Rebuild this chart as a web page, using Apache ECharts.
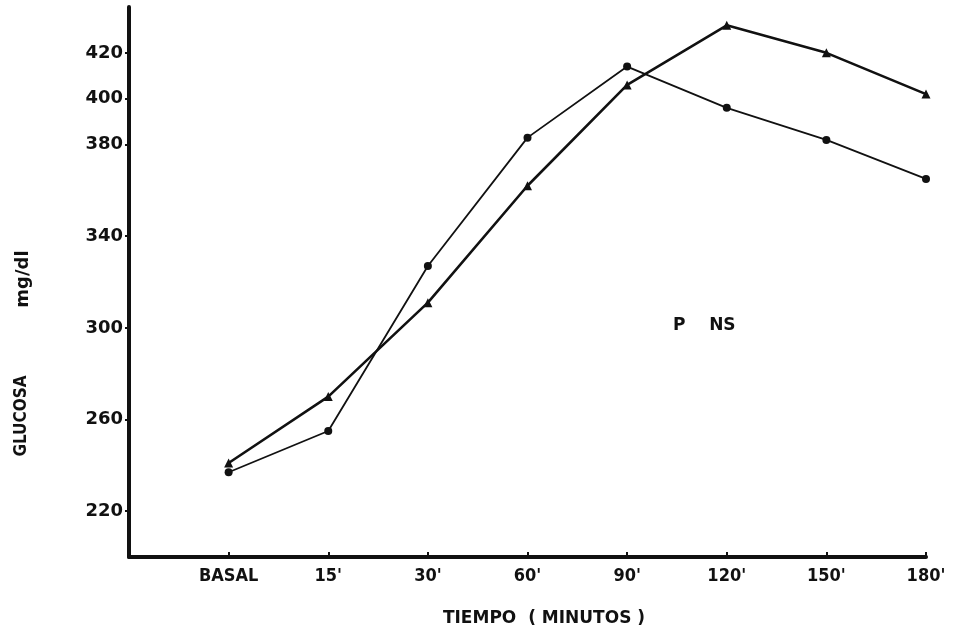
<!DOCTYPE html>
<html>
<head>
<meta charset="utf-8">
<script src="https://cdn.jsdelivr.net/npm/echarts@6/dist/echarts.min.js"></script>
<style>
  html, body { margin: 0; padding: 0; background: #fff; }
  #chart { width: 953px; height: 632px; }
</style>
</head>
<body>
<div id="chart"></div>
<script>
// Time points (first slot is empty, axis starts there)
const categories = ['', 'BASAL', "15'", "30'", "60'", "90'", "120'", "150'", "180'"];
// Glucose, mg/dl
const circleSeries = [null, 237, 255, 327, 383, 414, 396, 382, 365];
const triangleSeries = [null, 241, 270, 311, 362, 406, 432, 420, 402];
const yTickLabels = [220, 260, 300, 340, 380, 400, 420];

const ink = '#111';
const narrow = "'DejaVu Sans Condensed', 'DejaVu Sans', sans-serif";
const wide = "'DejaVu Sans', sans-serif";

const chart = echarts.init(document.getElementById('chart'));

chart.setOption({
  animation: false,
  backgroundColor: '#fff',
  grid: { left: 129, right: 27, top: 7, bottom: 75 },
  xAxis: {
    type: 'category',
    data: categories,
    boundaryGap: false,
    axisLine: { lineStyle: { color: ink, width: 4 } },
    axisTick: { inside: true, length: 5, lineStyle: { color: ink, width: 2 } },
    axisLabel: {
      color: ink, fontFamily: narrow, fontWeight: 'bold', fontSize: 18, margin: 10
    },
    splitLine: { show: false }
  },
  yAxis: {
    type: 'value',
    min: 200,
    max: 440,
    interval: 20,
    axisLine: { show: true, lineStyle: { color: ink, width: 4 } },
    axisTick: {
      show: true, length: 4, customValues: yTickLabels,
      lineStyle: { color: ink, width: 2 }
    },
    axisLabel: {
      color: ink, fontFamily: wide, fontWeight: 'bold', fontSize: 18, margin: 6,
      customValues: yTickLabels
    },
    splitLine: { show: false }
  },
  graphic: [
    {
      type: 'text', x: 22, y: 416, rotation: Math.PI / 2,
      style: { text: 'GLUCOSA', fill: ink, font: 'bold 17px ' + narrow, align: 'center', verticalAlign: 'middle' }
    },
    {
      type: 'text', x: 23, y: 279, rotation: Math.PI / 2,
      style: { text: 'mg/dl', fill: ink, font: 'bold 18px ' + wide, align: 'center', verticalAlign: 'middle' }
    },
    {
      type: 'text', x: 544, y: 619,
      style: { text: 'TIEMPO  ( MINUTOS )', fill: ink, font: 'bold 17px ' + wide, align: 'center', verticalAlign: 'middle' }
    },
    {
      type: 'text', x: 673, y: 326,
      style: { text: 'P    NS', fill: ink, font: 'bold 17px ' + wide, align: 'left', verticalAlign: 'middle' }
    }
  ],
  series: [
    {
      type: 'line',
      data: circleSeries,
      symbol: 'circle',
      symbolSize: 8,
      lineStyle: { color: ink, width: 1.8 },
      itemStyle: { color: ink }
    },
    {
      type: 'line',
      data: triangleSeries,
      symbol: 'triangle',
      symbolSize: 9,
      lineStyle: { color: ink, width: 2.6 },
      itemStyle: { color: ink }
    }
  ]
});
</script>
</body>
</html>
